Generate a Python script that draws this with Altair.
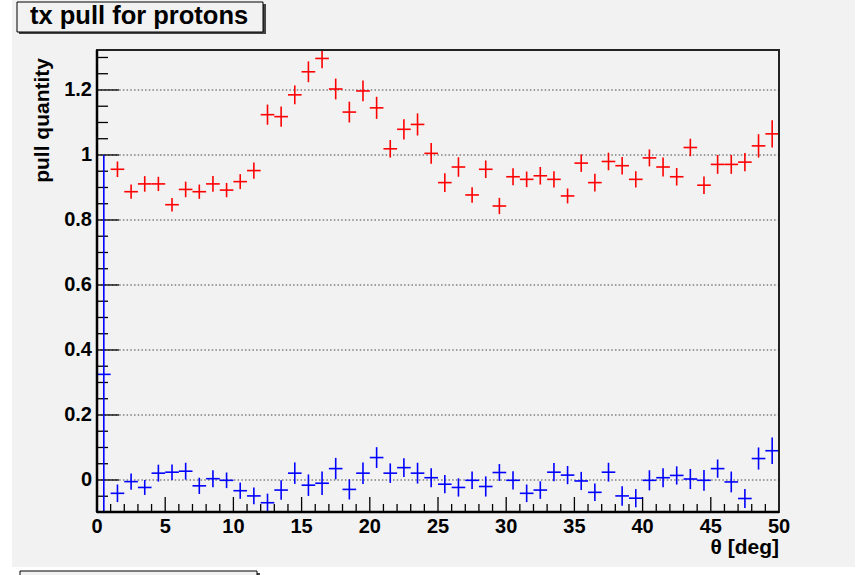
import altair as alt
import pandas as pd

# ---------------- data ----------------
red_theta = [1.5, 2.5, 3.5, 4.5, 5.5, 6.5, 7.5, 8.5, 9.5, 10.5, 11.5, 12.5, 13.5, 14.5,
             15.5, 16.5, 17.5, 18.5, 19.5, 20.5, 21.5, 22.5, 23.5, 24.5, 25.5, 26.5,
             27.5, 28.5, 29.5, 30.5, 31.5, 32.5, 33.5, 34.5, 35.5, 36.5, 37.5, 38.5,
             39.5, 40.5, 41.5, 42.5, 43.5, 44.5, 45.5, 46.5, 47.5, 48.5, 49.5]
red_vals = [0.956, 0.887, 0.911, 0.911, 0.847, 0.894, 0.887, 0.911, 0.892, 0.918, 0.952,
            1.124, 1.118, 1.185, 1.256, 1.297, 1.203, 1.132, 1.197, 1.145, 1.019, 1.079,
            1.094, 1.005, 0.915, 0.963, 0.877, 0.956, 0.843, 0.933, 0.925, 0.936, 0.925,
            0.874, 0.975, 0.915, 0.980, 0.967, 0.925, 0.991, 0.963, 0.933, 1.023, 0.907,
            0.971, 0.971, 0.978, 1.028, 1.065]
red_errs = [0.024, 0.022, 0.024, 0.022, 0.021, 0.024, 0.022, 0.024, 0.022, 0.023, 0.025,
            0.031, 0.031, 0.029, 0.032, 0.030, 0.032, 0.032, 0.032, 0.034, 0.027, 0.031,
            0.034, 0.032, 0.029, 0.030, 0.024, 0.027, 0.025, 0.026, 0.024, 0.027, 0.025,
            0.023, 0.027, 0.027, 0.027, 0.027, 0.025, 0.026, 0.029, 0.027, 0.027, 0.027,
            0.029, 0.029, 0.028, 0.036, 0.042]

blue_theta = [0.5] + red_theta
blue_vals = [0.325, -0.041, -0.005, -0.023, 0.021, 0.024, 0.027, -0.018, 0.004, -0.001,
             -0.033, -0.049, -0.070, -0.031, 0.021, -0.016, -0.010, 0.035, -0.029, 0.021,
             0.069, 0.021, 0.038, 0.021, 0.007, -0.013, -0.023, -0.001, -0.020, 0.023,
             -0.001, -0.041, -0.031, 0.024, 0.015, -0.003, -0.038, 0.024, -0.049, -0.056,
             -0.001, 0.007, 0.014, 0.003, -0.001, 0.035, -0.006, -0.057, 0.066, 0.090]
blue_errs = [0.675, 0.027, 0.025, 0.023, 0.026, 0.024, 0.026, 0.025, 0.026, 0.024,
             0.025, 0.026, 0.028, 0.030, 0.033, 0.033, 0.036, 0.033, 0.031, 0.033,
             0.032, 0.030, 0.029, 0.032, 0.029, 0.028, 0.028, 0.027, 0.031, 0.026,
             0.028, 0.027, 0.027, 0.028, 0.028, 0.028, 0.027, 0.029, 0.030, 0.028,
             0.031, 0.029, 0.028, 0.031, 0.032, 0.028, 0.032, 0.029, 0.034, 0.041]

x_label_values = [0, 5, 10, 15, 20, 25, 30, 35, 40, 45, 50]
x_label_text = ["0", "5", "10", "15", "20", "25", "30", "35", "40", "45", "50"]
y_label_values = [0, 0.2, 0.4, 0.6, 0.8, 1, 1.2]
y_label_text = ["0", "0.2", "0.4", "0.6", "0.8", "1", "1.2"]
x_minor = [1, 2, 3, 4, 6, 7, 8, 9, 11, 12, 13, 14, 16, 17, 18, 19, 21, 22, 23, 24,
           26, 27, 28, 29, 31, 32, 33, 34, 36, 37, 38, 39, 41, 42, 43, 44, 46, 47, 48, 49]
y_minor = [-0.05, 0.05, 0.1, 0.15, 0.25, 0.3, 0.35, 0.45, 0.5, 0.55, 0.65, 0.7, 0.75,
           0.85, 0.9, 0.95, 1.05, 1.1, 1.15, 1.25, 1.3]

title_text = "tx pull for protons"
y_title = "pull quantity"
x_title = "θ [deg]"

# ---------------- styling ----------------
FONT = "Liberation Sans"
W, H = 682, 462
BG = "#f2f2f2"
xs = alt.Scale(domain=[0, 50], nice=False, zero=False)
ys = alt.Scale(domain=[-0.0985, 1.323], nice=False, zero=False)

one = alt.Data(values=[{}])


def crosses(theta, vals, errs, color):
    df = pd.DataFrame({"theta": theta, "val": vals, "err": errs})
    base = alt.Chart(df).transform_calculate(
        lo="datum.theta - 0.5", hi="datum.theta + 0.5",
        ylo="datum.val - datum.err", yhi="datum.val + datum.err")
    h = base.mark_rule(color=color, strokeWidth=1.6, clip=True).encode(
        x=alt.X("lo:Q", scale=xs, axis=None), x2="hi:Q",
        y=alt.Y("val:Q", scale=ys, axis=None))
    v = base.mark_rule(color=color, strokeWidth=1.6, clip=True).encode(
        x=alt.X("theta:Q", scale=xs, axis=None),
        y=alt.Y("ylo:Q", scale=ys, axis=None), y2="yhi:Q")
    return [h, v]


bg = alt.Chart(one).mark_rect(color=BG).encode(
    x=alt.value(-85), x2=alt.value(758), y=alt.value(-50), y2=alt.value(517))

ydf = pd.DataFrame({"v": y_label_values, "t": y_label_text})
xdf = pd.DataFrame({"v": x_label_values, "t": x_label_text})

grid = alt.Chart(ydf).mark_rule(color="#444", strokeWidth=1.2, strokeDash=[1.5, 2.2]).encode(
    y=alt.Y("v:Q", scale=ys, axis=None), x=alt.value(0), x2=alt.value(W))

y_major = alt.Chart(ydf).mark_rule(color="black", strokeWidth=1.3).encode(
    y=alt.Y("v:Q", scale=ys, axis=None), x=alt.value(0), x2=alt.value(22))
y_min = alt.Chart(pd.DataFrame({"v": y_minor})).mark_rule(
    color="black", strokeWidth=1.3).encode(
    y=alt.Y("v:Q", scale=ys, axis=None), x=alt.value(0), x2=alt.value(11))
y_lab = alt.Chart(ydf).mark_text(
    font=FONT, fontWeight="bold", fontSize=20, align="right", baseline="middle",
    color="black").encode(
    y=alt.Y("v:Q", scale=ys, axis=None), x=alt.value(-5), text="t:N")

x_major = alt.Chart(xdf).mark_rule(color="black", strokeWidth=1.3).encode(
    x=alt.X("v:Q", scale=xs, axis=None), y=alt.value(H), y2=alt.value(H - 15))
x_min = alt.Chart(pd.DataFrame({"v": x_minor})).mark_rule(
    color="black", strokeWidth=1.3).encode(
    x=alt.X("v:Q", scale=xs, axis=None), y=alt.value(H), y2=alt.value(H - 8))
x_lab = alt.Chart(xdf).mark_text(
    font=FONT, fontWeight="bold", fontSize=20, align="center", baseline="alphabetic",
    color="black").encode(
    x=alt.X("v:Q", scale=xs, axis=None), y=alt.value(H + 21), text="t:N")

frame = alt.Chart(one).mark_rect(fillOpacity=0, stroke="#222", strokeWidth=2).encode(
    x=alt.value(0), x2=alt.value(W), y=alt.value(0), y2=alt.value(H))
left_axis = alt.Chart(one).mark_rule(color="black", strokeWidth=2.5).encode(
    x=alt.value(0), y=alt.value(0), y2=alt.value(H))
bottom_axis = alt.Chart(one).mark_rule(color="black", strokeWidth=2.5).encode(
    x=alt.value(0), x2=alt.value(W), y=alt.value(H))

# title pave
shadow = alt.Chart(one).mark_rect(color="#444").encode(
    x=alt.value(-78), x2=alt.value(169), y=alt.value(-46), y2=alt.value(-16))
box = alt.Chart(one).mark_rect(fill=BG, stroke="black", strokeWidth=1).encode(
    x=alt.value(-80), x2=alt.value(166), y=alt.value(-48), y2=alt.value(-18))
ttl = alt.Chart(one).mark_text(
    text=title_text, font=FONT, fontWeight="bold", fontSize=25.5, align="left",
    baseline="alphabetic", color="black").encode(x=alt.value(-67), y=alt.value(-26))

# lower (cut-off) pave
shadow2 = alt.Chart(one).mark_rect(color="#444").encode(
    x=alt.value(-75), x2=alt.value(163), y=alt.value(523), y2=alt.value(545))
box2 = alt.Chart(one).mark_rect(fill=BG, stroke="black", strokeWidth=1).encode(
    x=alt.value(-77), x2=alt.value(160), y=alt.value(521), y2=alt.value(545))

ytitle = alt.Chart(one).mark_text(
    text=y_title, font=FONT, fontWeight="bold", fontSize=21, align="right",
    baseline="alphabetic", angle=270, color="black").encode(
    x=alt.value(-48), y=alt.value(8))
xtitle = alt.Chart(one).mark_text(
    text=x_title, font=FONT, fontWeight="bold", fontSize=21, align="right",
    baseline="alphabetic", color="black").encode(
    x=alt.value(W), y=alt.value(504))

layers = [bg, grid, y_major, y_min, x_major, x_min]
layers += crosses(red_theta, red_vals, red_errs, "#ff0000")
layers += crosses(blue_theta, blue_vals, blue_errs, "#0000ff")
layers += [frame, left_axis, bottom_axis, y_lab, x_lab, shadow, box, ttl,
           shadow2, box2, ytitle, xtitle]

chart = alt.layer(*layers).properties(
    width=W, height=H,
    padding={"left": 97, "top": 50, "right": 78, "bottom": 63},
    autosize=alt.AutoSizeParams(type="none"),
    background="white",
).configure_view(stroke=None)

chart.save("out.html", embed_options={"renderer": "svg", "actions": False})
